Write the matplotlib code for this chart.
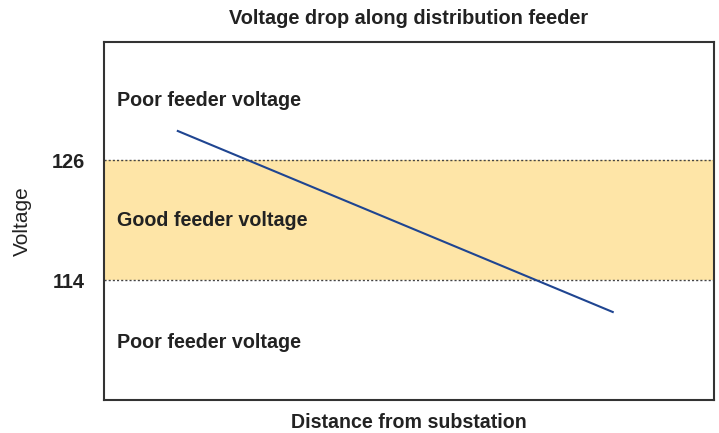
import matplotlib
matplotlib.use("Agg")
import matplotlib.pyplot as plt

plt.rcParams['font.family'] = ['Liberation Sans', 'DejaVu Sans']

# Data
band_low, band_high = 114, 126
yticks = [114, 126]
line_x = [12.1, 83.4]
line_y = [128.9, 110.8]
labels = ["Poor feeder voltage", "Good feeder voltage", "Poor feeder voltage"]
label_y = [132.0, 120.0, 107.8]

fig = plt.figure(figsize=(7.19, 4.33), dpi=100)
ax = fig.add_axes([104/719, 1-400/433, 610/719, 358/433])
ax.set_xlim(0, 100)
ax.set_ylim(102, 137.8)

ax.axhspan(band_low, band_high, color='#FEE5A7', lw=0, zorder=0)
for y in (band_low, band_high):
    ax.axhline(y, color='#444444', lw=1.0, ls=(0, (1.5, 1.5)), zorder=1)
ax.plot(line_x, line_y, color='#1F4591', lw=1.5, zorder=3)

for t, y in zip(labels, label_y):
    ax.text(2.1, y, t, fontsize=14.2, fontweight='bold', color='#222222', va='center', ha='left')

ax.set_xticks([])
ax.set_yticks(yticks)
ax.set_yticklabels([str(v) for v in yticks], fontsize=14.4, fontweight='bold', color='#222222')
ax.tick_params(axis='y', length=0, pad=14)
for s in ax.spines.values():
    s.set_color('#333333')
    s.set_linewidth(1.5)

ax.set_ylabel("Voltage", fontsize=15, color='#222222', va='center')
ax.yaxis.set_label_coords((22 - 104) / 610, 0.5)
ax.set_xlabel("Distance from substation", fontsize=14.1, fontweight='bold', color='#222222', labelpad=9.5)
ax.set_title("Voltage drop along distribution feeder", fontsize=14.3, fontweight='bold', color='#222222', pad=13)

fig.savefig("out.png", dpi=100)
